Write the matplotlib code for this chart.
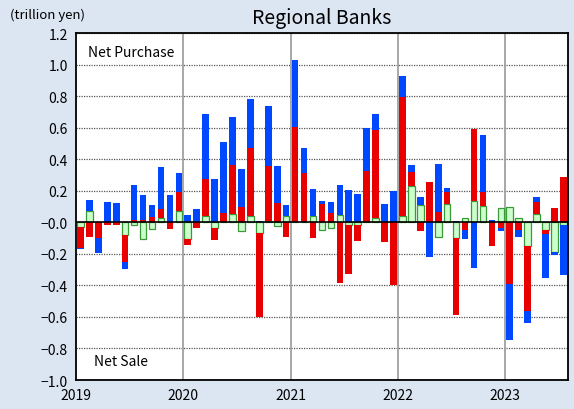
import numpy as np
import matplotlib
matplotlib.use("Agg")
import matplotlib.pyplot as plt

plt.rcParams['font.family'] = ['Noto Sans CJK JP', 'DejaVu Sans']

# monthly values, Jan 2019 - Jul 2023 (trillion yen)
years = ["2019", "2020", "2021", "2022", "2023"]

green = [-0.03, 0.07, 0.0, 0.0, 0.0, -0.08, -0.017, -0.105, -0.045, 0.03, 0.0, 0.072,
         -0.105, 0.0, 0.042, -0.036, 0.0, 0.053, -0.055, 0.043, -0.07, 0.01, -0.022, 0.042,
         0.0, 0.0, 0.042, -0.048, -0.038, 0.046, -0.017, -0.017, 0.0, 0.025, 0.0, 0.0,
         0.041, 0.229, 0.112, 0.0, -0.093, 0.114, -0.1, 0.03, 0.135, 0.103, 0.0, 0.09,
         0.095, 0.027, -0.15, 0.053, -0.046, -0.185, -0.017]

red = [-0.13, -0.095, -0.097, -0.015, -0.018, -0.173, 0.015, 0.017, 0.032, 0.054, -0.045, 0.121,
       -0.036, -0.034, 0.23, -0.079, 0.058, 0.308, 0.099, 0.431, -0.53, 0.347, 0.12, -0.094,
       0.604, 0.316, -0.1, 0.114, 0.057, -0.385, -0.31, -0.1, 0.324, 0.558, -0.126, -0.4,
       0.757, 0.09, -0.055, 0.257, 0.064, 0.08, -0.49, -0.048, 0.455, 0.09, -0.15, -0.034,
       -0.39, -0.046, -0.41, 0.078, -0.025, 0.088, 0.286]

blue = [-0.008, 0.072, -0.099, 0.13, 0.12, -0.042, 0.222, 0.158, 0.075, 0.268, 0.173, 0.117,
        0.048, 0.083, 0.417, 0.277, 0.45, 0.31, 0.239, 0.31, 0.01, 0.379, 0.235, 0.071,
        0.425, 0.157, 0.172, 0.021, 0.07, 0.194, 0.206, 0.18, 0.276, 0.105, 0.116, 0.198,
        0.13, 0.046, 0.046, -0.219, 0.304, 0.021, 0.006, -0.057, -0.29, 0.364, 0.013, -0.02,
        -0.358, -0.046, -0.078, 0.03, -0.28, -0.025, -0.32]

bg = '#dce6f3'
fig = plt.figure(figsize=(5.74, 4.10), dpi=100, facecolor=bg)
ax = fig.add_axes([0.1324, 0.0707, 0.857, 0.846])

n = len(red)
x = np.arange(n) + 0.5
w = 0.74

# horizontal dotted grid and year separators
for yv in np.arange(-1.0, 1.21, 0.2):
    if abs(yv) > 1e-9:
        ax.axhline(yv, color='#555555', lw=0.9, ls=(0, (1, 1)), zorder=0)
for k in range(1, len(years)):
    ax.axvline(12 * k, color='#a0a0a0', lw=1.3, zorder=0)

pos_b = np.zeros(n)
neg_b = np.zeros(n)
series = [
    (green, dict(color='#ccffcc', edgecolor='#3a9a3a', linewidth=0.9)),
    (red, dict(color='#e80000', edgecolor='none')),
    (blue, dict(color='#0048ff', edgecolor='none')),
]
for vals, style in series:
    v = np.array(vals)
    bottom = np.where(v >= 0, pos_b, neg_b)
    ax.bar(x, v, w, bottom=bottom, zorder=2, **style)
    pos_b += np.clip(v, 0, None)
    neg_b += np.clip(v, None, 0)

ax.axhline(0, color='black', lw=1.2, zorder=3)

ax.set_xlim(0, n)
ax.set_ylim(-1.0, 1.2)
ax.set_xticks([12 * k for k in range(len(years))])
ax.set_xticklabels(years, fontsize=10)
yt = np.round(np.arange(-1.0, 1.21, 0.2), 1)
ax.set_yticks(yt)
ax.set_yticklabels([f"{v:.1f}".replace('-', '\u2212') for v in yt], fontsize=10)
ax.tick_params(length=0, pad=6)
for s in ax.spines.values():
    s.set_color('black')
    s.set_linewidth(1.3)

ax.text(0.024, 0.945, "Net Purchase", transform=ax.transAxes, fontsize=10, va='center')
ax.text(0.037, 0.055, "Net Sale", transform=ax.transAxes, fontsize=10, va='center')
fig.text(0.561, 0.955, "Regional Banks", ha='center', va='center', fontsize=14)
fig.text(0.017, 0.963, "(trillion yen)", ha='left', va='center', fontsize=9.5)

fig.savefig("out.png", dpi=100, facecolor=bg)
